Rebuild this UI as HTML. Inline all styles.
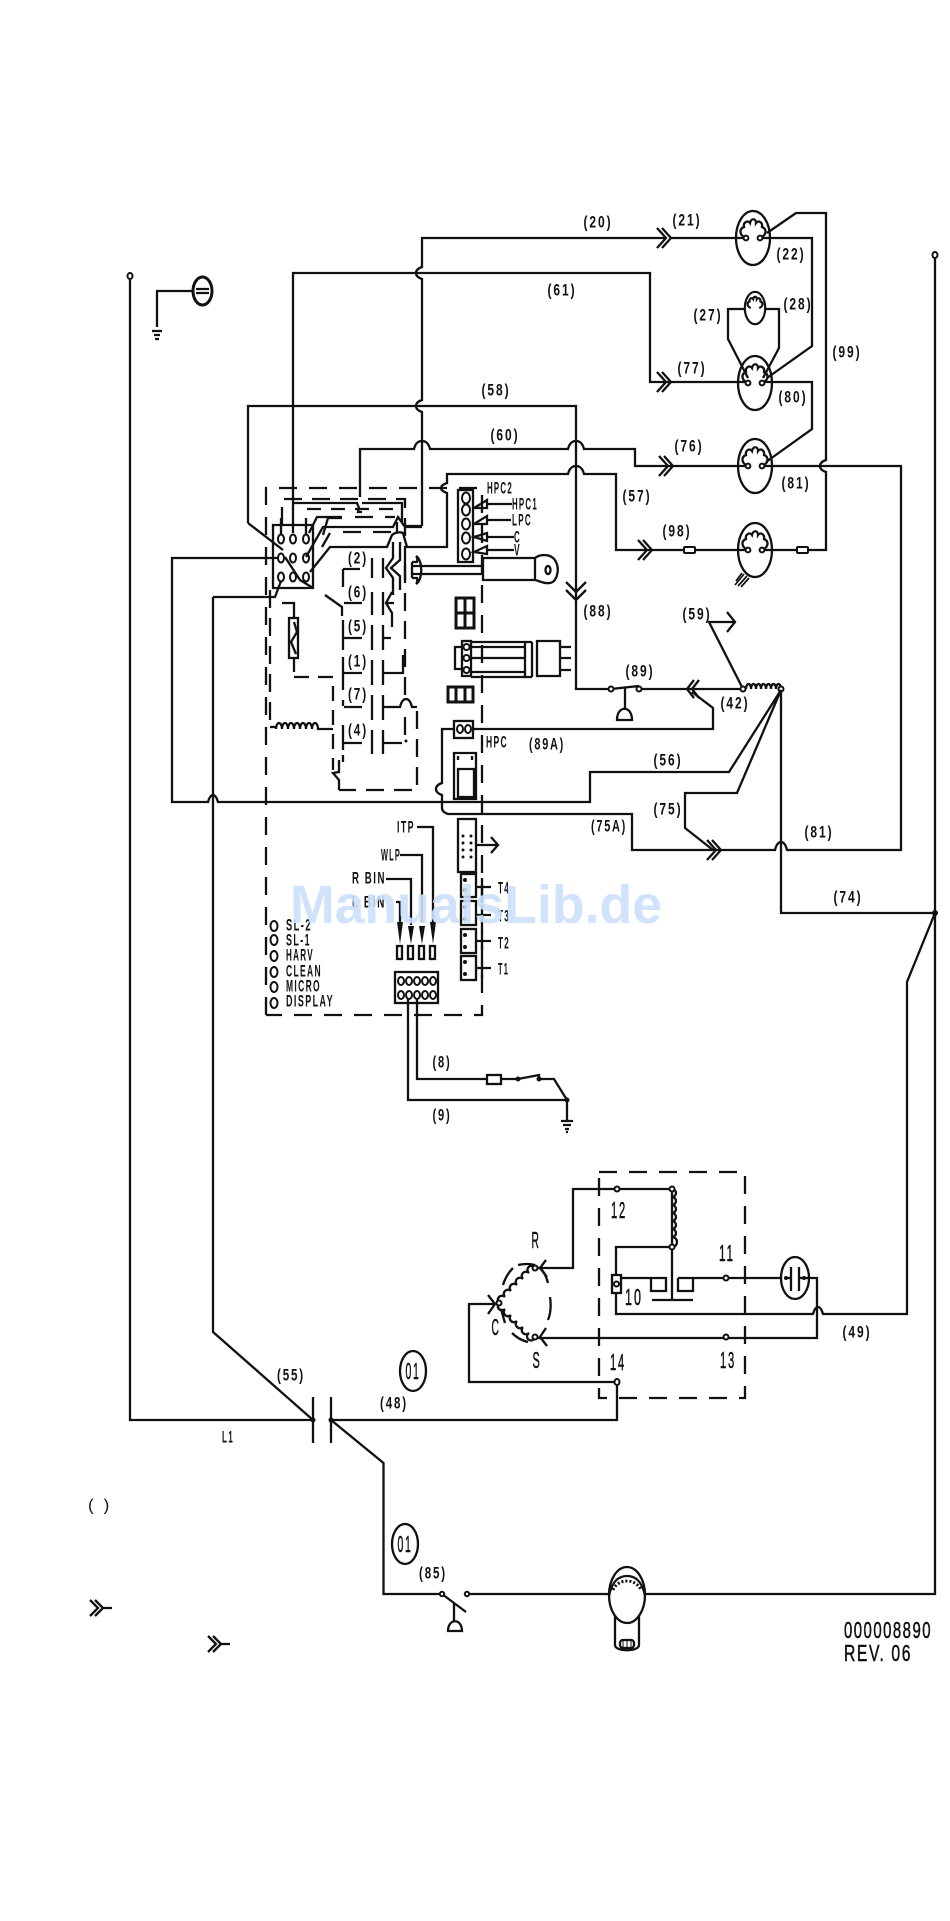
<!DOCTYPE html>
<html><head><meta charset="utf-8"><title>Wiring diagram</title>
<style>
html,body{margin:0;padding:0;background:#fff}
svg{display:block}
.w{fill:none;stroke:#111;stroke-width:2.3;stroke-linejoin:miter}
.d{fill:none;stroke:#111;stroke-width:2.3;stroke-dasharray:18 12}
.e{fill:none;stroke:#111;stroke-width:2.3;stroke-dasharray:18 10}
.n{fill:#fff;stroke:#111;stroke-width:2}
.k{fill:#111;stroke:none}
text{font-family:"Liberation Sans",sans-serif;font-weight:bold;font-size:17px;letter-spacing:.16em;fill:#111;dominant-baseline:central}
.m{text-anchor:middle}
.b{font-size:23px;font-weight:normal;stroke:#111;stroke-width:.5}
</style></head><body>
<svg width="950" height="1921" viewBox="0 0 950 1921" xmlns="http://www.w3.org/2000/svg">
<defs>
<g id="mot">
<ellipse class="w" cx="0" cy="0" rx="17" ry="27"/>
<path class="w" d="M-7 0C-14 -3 -14 -9 -9 -11C-10 -16 -5 -18 -3 -15C-2 -20 3 -20 3 -15C5 -18 10 -16 9 -11C14 -9 14 -3 7 0"/>
<circle class="n" cx="-7" cy="0" r="2.400"/><circle class="n" cx="7" cy="0" r="2.400"/>
</g>
<path id="chv" class="w" d="M-9 -10L0 0L-9 10M-4 -10L5 0L-4 10"/>
</defs>

<!-- ground top left -->
<path class="w" d="M193 291H157V327M152 331H162M154 335H160M155 339H159"/>
<ellipse class="w" cx="202.500" cy="291" rx="9.500" ry="14" style="stroke-width:3"/>
<path class="w" d="M196 289H209M196 293H209"/>

<!-- main left rail -->
<path class="w" d="M130 279V1420H313"/><ellipse class="n" cx="130" cy="276" rx="2.500" ry="3"/>
<!-- main right rail -->
<path class="w" d="M935 258V1594H646"/><ellipse class="n" cx="935" cy="255" rx="2.500" ry="3"/>
<path class="w" d="M935 913L907 982V1314H823q-2 -7 -5 -7q-3 0 -5 7H616V1293M616 1275V1247H672"/>

<!-- upper wires -->
<path class="w" d="M422 526H406M422 526V412q-6 -2 -6 -6q0 -4 6 -6V279q-6 -2 -6 -6q0 -4 6 -6V238H666M671 238H746"/>
<path class="w" d="M293 533V273H650V382H746"/>
<path class="w" d="M248 523V406H576V689H611"/>
<path class="w" d="M248 523L283 550M285 557L300 580L313 588"/>
<path class="w" d="M360 497V449H414q2 -8 8 -8q6 0 8 8H568q2 -8 8 -8q6 0 8 8H635V466H746"/>
<path class="w" d="M405 547H447V493q-6 -2 -6 -5q0 -3 6 -5V474H568q2 -8 8 -8q6 0 8 8H616V550H746"/>
<path class="w" d="M763 550H826V472q-6 -2 -6 -6q0 -4 6 -6V213H796L767 233"/>
<path class="w" d="M761 238H812V346L767 378"/>
<path class="w" d="M762 382H812V429L766 462"/>
<path class="w" d="M762 466H901V850H787q-2 -8 -6 -8q-4 0 -6 8H632V814H448q-6 -2 -6 -6V795q-6 -2 -6 -6q0 -4 6 -6V729H454"/>
<path class="w" d="M745 309H728V339L748 378M765 309H779V348L763 378"/>
<!-- motors -->
<use href="#mot" x="753" y="238"/>
<g transform="translate(755,308) scale(.6)"><ellipse cx="0" cy="0" rx="17" ry="27" fill="none" stroke="#111" stroke-width="3.600"/><path d="M-7 0C-14 -3 -14 -9 -9 -11C-10 -16 -5 -18 -3 -15C-2 -20 3 -20 3 -15C5 -18 10 -16 9 -11C14 -9 14 -3 7 0" fill="none" stroke="#111" stroke-width="3.600"/></g>
<use href="#mot" x="755" y="383"/>
<use href="#mot" x="755" y="466"/>
<use href="#mot" x="755" y="550"/>
<path class="w" style="stroke-width:1.700" d="M735 585L744 574M738 586L747 576M741 587L749 578M736 581L742 573"/>
<!-- chevrons -->
<use href="#chv" x="666" y="238"/><use href="#chv" x="666" y="382"/><use href="#chv" x="668" y="466"/><use href="#chv" x="647" y="550"/>
<path class="w" d="M566 582L576 592L586 582M566 590L576 600L586 590"/>
<rect x="684" y="547" width="11" height="6" class="n" rx="1"/><rect x="797" y="547" width="11" height="6" class="n" rx="1"/>

<!-- right lower area -->
<path class="w" d="M639 689H743M625 688V710M617 720C617 705 632 705 632 720Z"/>
<path class="w" d="M611 689L639 686"/><circle class="n" cx="611" cy="689" r="2.500"/><circle class="n" cx="639" cy="689" r="2.500"/>
<path class="w" d="M694 680L687 689L694 698M699 680L692 689L699 698"/>
<path class="w" d="M473 729H713V708L692 692"/>
<path class="w" d="M743 689L709 622H735M727 612L735 622L727 632"/>
<path class="w" d="M746 689a2.500 5 0 1 1 5 0a2.500 5 0 1 1 5 0a2.500 5 0 1 1 5 0a2.500 5 0 1 1 5 0a2.500 5 0 1 1 5 0a2.500 5 0 1 1 5 0a2.500 5 0 1 1 5 0"/>
<circle class="n" cx="743" cy="689" r="2.500"/><circle class="n" cx="781" cy="689" r="2.500"/>
<path class="w" d="M781 690V913H935M781 690L729 772H590V802H218q-2 -7 -5 -7q-3 0 -5 7H172V558H278M781 690L737 793H685V828L713 850"/>
<use href="#chv" x="716" y="850"/>
<circle class="k" cx="935" cy="913" r="3"/>
<path class="w" d="M213 597V1332L313 1420M213 597H275L281 581"/>

<!-- dashed control box -->
<path class="d" d="M266 1015V488H482V1015H266"/>
<!-- node block -->
<path class="w" d="M273 525H313V588H273Z"/>
<g>
<ellipse class="n" cx="281" cy="539" rx="3" ry="4.500"/><ellipse class="n" cx="293" cy="539" rx="3" ry="4.500"/><ellipse class="n" cx="306" cy="539" rx="3" ry="4.500"/>
<ellipse class="n" cx="281" cy="558" rx="3" ry="4.500"/><ellipse class="n" cx="293" cy="558" rx="3" ry="4.500"/><ellipse class="n" cx="306" cy="558" rx="3" ry="4.500"/>
<ellipse class="n" cx="281" cy="577" rx="3" ry="4.500"/><ellipse class="n" cx="293" cy="577" rx="3" ry="4.500"/><ellipse class="n" cx="306" cy="577" rx="3" ry="4.500"/>
</g>
<path class="w" d="M281 518V534M306 518V534"/>
<!-- inner dashed box top -->
<path class="e" d="M282 525V499H405V560"/>
<path class="w" d="M293 503H357l2 5l-1 4h4M362 503H402V522"/>
<path class="e" style="stroke-dasharray:14 10" d="M307 509H400"/>
<path class="w" d="M309 533L317 517H342M323 535L328 518H342"/>
<path class="e" style="stroke-dasharray:18 12" d="M355 517H395M343 532H392"/>
<path class="w" d="M306 557L323 527H393L398 517L405 527H422"/>
<path class="w" d="M322 547L330 533"/>
<path class="w" d="M310 572L330 547H387L392 535Q397 531 403 533L407 547"/>
<path class="w" d="M393 542V558L386 568L393 578V595M400 542V560L391 568L400 576V590"/>
<path class="w" d="M397 522V532"/>
<!-- inner vertical dash right -->
<path class="e" d="M405 565V695M405 717V737"/>
<path class="e" d="M417 711V790H339"/>
<!-- contacts -->
<path class="w" d="M343 569H360M343 569V587M344 603H362M344 638H362M344 673H362M344 707H362M344 743H362M343 620V650M343 657V690M343 700V706M343 725V750M325 595L342 607V616"/>
<path class="w" d="M372 558V578M383 558V578M372 592V615M383 592V615M372 625V650M383 625V650M372 660V685M383 660V685M372 695V720M383 695V720M372 730V754M383 730V754"/>
<path class="w" d="M383 638H391M383 673H403V655M383 707H400q2 -8 6 -8q4 0 6 8H417M383 743H402"/>
<path class="w" d="M385 603H394M392 592L386 603L392 613V627"/>
<circle class="k" cx="406" cy="741" r="1.500"/>
<path class="w" d="M339 760V772L333 773L339 780V790M343 755V762"/>
<!-- fuse and coil -->
<path class="w" d="M282 603H294V618M294 658V672"/>
<rect x="289" y="618" width="9" height="40" class="w"/>
<path class="w" d="M294 622L297 632L291 642L296 654"/>
<path class="e" style="stroke-dasharray:15 9" d="M294 677H333V770"/>
<path class="e" d="M270 590V727"/>
<path class="w" d="M270 727H276"/>
<path class="w" d="M276 729a3 6 0 1 1 6 0a3 6 0 1 1 6 0a3 6 0 1 1 6 0a3 6 0 1 1 6 0a3 6 0 1 1 6 0a3 6 0 1 1 6 0a3 6 0 1 1 6 0H333"/>
<!-- 5-pin and relay head -->
<rect x="458" y="490" width="15" height="72" class="w"/>
<g><ellipse class="n" cx="466" cy="498" rx="4" ry="5.500"/><ellipse class="n" cx="466" cy="510" rx="4" ry="5.500"/><ellipse class="n" cx="466" cy="524" rx="4" ry="5.500"/><ellipse class="n" cx="466" cy="538" rx="4" ry="5.500"/><ellipse class="n" cx="466" cy="554" rx="4" ry="5.500"/></g>
<path class="w" d="M474 508L487 500V508H474M487 504H512M474 524L487 516V524H474M487 520H511M474 537L487 533V541ZM487 537H514M474 552L487 546V554ZM487 550H514"/>
<path class="w" d="M483 558H535V580H483ZM535 558C540 554 552 553 556 562C559 568 558 576 554 581C548 586 540 581 535 580M413 566H483M413 574H483"/>
<ellipse class="w" cx="548" cy="570" rx="2.500" ry="4"/>
<path class="w" d="M405 560V580M412 562V578M412 562H417C417 562 418 558 416 556M412 578H417C417 578 418 582 416 584M416 556C423 560 423 580 416 584"/>
<!-- 4-square -->
<path class="w" style="stroke-width:3" d="M456 598H474V628H456ZM465 598V628M456 613H474"/>
<!-- connector + plug -->
<rect x="462" y="641" width="9" height="35" class="w"/>
<circle class="n" cx="466.500" cy="647" r="3"/><circle class="n" cx="466.500" cy="658" r="3"/><circle class="n" cx="466.500" cy="670" r="3"/>
<path class="w" d="M462 647H455V669H462M471 642H532M471 647H525M471 658H525M471 672H525M471 677H532M525 642V677M532 642V677M537 641H560V676H537ZM560 647H571M560 658H571M560 670H571"/>
<path class="w" style="stroke-width:3" d="M448 687H473V702H448ZM456 687V702M465 687V702"/>
<rect x="454" y="721" width="19" height="17" class="w"/>
<ellipse class="n" cx="460" cy="729" rx="3" ry="4"/><ellipse class="n" cx="468" cy="729" rx="3" ry="4"/>
<path class="w" d="M454 753H476V799H454ZM458 769H474V797H458ZM458 760V756M472 760V756"/>

<!-- ITP etc -->
<path class="w" d="M417 827H433V922M400 855H422V922M386 879H411V925M396 902H400V922"/>
<path class="k" d="M397 922H403L400 944ZM408 926H414L411 944ZM419 926H425L422 944ZM430 922H436L433 944Z"/>
<rect x="397" y="946" width="5" height="13" class="w"/><rect x="408" y="946" width="5" height="13" class="w"/><rect x="419" y="946" width="5" height="13" class="w"/><rect x="430" y="946" width="5" height="13" class="w"/>
<rect x="395" y="972" width="43" height="31" class="w"/>
<g><ellipse class="n" cx="401" cy="981" rx="3" ry="4"/><ellipse class="n" cx="409" cy="981" rx="3" ry="4"/><ellipse class="n" cx="417" cy="981" rx="3" ry="4"/><ellipse class="n" cx="425" cy="981" rx="3" ry="4"/><ellipse class="n" cx="433" cy="981" rx="3" ry="4"/><ellipse class="n" cx="401" cy="995" rx="3" ry="4"/><ellipse class="n" cx="409" cy="995" rx="3" ry="4"/><ellipse class="n" cx="417" cy="995" rx="3" ry="4"/><ellipse class="n" cx="425" cy="995" rx="3" ry="4"/><ellipse class="n" cx="433" cy="995" rx="3" ry="4"/></g>
<path class="w" d="M408 999V1100H567V1120M417 999V1079H487M501 1079H518L539 1075V1079H554L567 1100"/>
<rect x="487" y="1075" width="14" height="9" class="w"/>
<circle class="k" cx="518" cy="1079" r="2.500"/><circle class="k" cx="539" cy="1079" r="2.500"/><circle class="k" cx="567" cy="1100" r="2.500"/>
<path class="w" d="M561 1121H573M563 1125H571M565 1129H569M566 1132H568"/>
<rect x="458" y="819" width="18" height="53" class="w"/>
<g class="k"><circle cx="463" cy="836" r="1.500"/><circle cx="471" cy="836" r="1.500"/><circle cx="463" cy="843" r="1.500"/><circle cx="471" cy="843" r="1.500"/><circle cx="463" cy="850" r="1.500"/><circle cx="471" cy="850" r="1.500"/><circle cx="463" cy="857" r="1.500"/><circle cx="471" cy="857" r="1.500"/></g>
<path class="w" d="M476 845H497M491 837L498 845L491 853"/>
<g>
<rect x="461" y="874" width="15" height="23" class="w"/><rect x="461" y="901" width="15" height="24" class="w"/><rect x="461" y="929" width="15" height="24" class="w"/><rect x="461" y="956" width="15" height="24" class="w"/>
<path class="w" d="M476 887H491M476 915H491M476 941H491M476 968H491M482 878V895M482 905V922M482 932V950M482 962V978"/>
<g class="k"><circle cx="465" cy="880" r="2"/><circle cx="465" cy="890" r="2"/><circle cx="465" cy="907" r="2"/><circle cx="465" cy="919" r="2"/><circle cx="465" cy="935" r="2"/><circle cx="465" cy="947" r="2"/><circle cx="465" cy="962" r="2"/><circle cx="465" cy="974" r="2"/></g>
</g>
<g><ellipse class="n" cx="274" cy="926" rx="3.500" ry="5"/><ellipse class="n" cx="274" cy="940" rx="3.500" ry="5"/><ellipse class="n" cx="274" cy="956" rx="3.500" ry="5"/><ellipse class="n" cx="274" cy="972" rx="3.500" ry="5"/><ellipse class="n" cx="274" cy="987" rx="3.500" ry="5"/><ellipse class="n" cx="274" cy="1003" rx="3.500" ry="5"/></g>

<!-- compressor section -->
<path class="d" d="M599 1172H745V1398H599Z"/>
<path class="w" d="M617 1382H469V1304H495M617 1382V1420H331M535 1268H573V1189H672"/>
<path class="w" d="M672 1189V1300M652 1300H693"/>
<path class="w" d="M672 1189a4 4 0 0 1 0 8a4 4 0 0 1 0 8a4 4 0 0 1 0 8a4 4 0 0 1 0 8a4 4 0 0 1 0 8a4 4 0 0 1 0 8a4 4 0 0 1 0 10"/>
<circle class="n" cx="617" cy="1189" r="2.500"/><circle class="n" cx="672" cy="1189" r="2.500"/><circle class="n" cx="672" cy="1247" r="2.500"/>
<rect x="612" y="1275" width="9" height="18" class="w"/><circle class="n" cx="616.500" cy="1284" r="2.500"/>
<path class="w" d="M621 1278H651V1291H666V1278H651M678 1278H726M678 1278V1291H693V1278H678M726 1278H781M804 1278H817V1338H535"/>
<circle class="n" cx="726" cy="1278" r="2.500"/><circle class="n" cx="726" cy="1337" r="2.500"/>
<ellipse class="w" cx="795" cy="1278" rx="14" ry="21"/>
<path class="w" d="M791 1267V1291M799 1267V1291M785 1278H791M799 1278H805"/>
<circle class="k" cx="786" cy="1278" r="2"/><circle class="k" cx="804" cy="1278" r="2"/>
<path class="w" d="M499 1303a4 4 0 1 1 6 -6a4 4 0 1 1 6 -6a4 4 0 1 1 6 -6a4 4 0 1 1 6 -6a4 4 0 1 1 6 -6a4 4 0 1 1 6 -5"/>
<path class="w" d="M499 1303a4 4 0 1 0 6 6a4 4 0 1 0 6 6a4 4 0 1 0 6 6a4 4 0 1 0 6 6a4 4 0 1 0 6 6a4 4 0 1 0 6 4"/>
<circle class="n" cx="535" cy="1268" r="2.500"/><circle class="n" cx="535" cy="1337" r="2.500"/><circle class="n" cx="499" cy="1303" r="2.500"/>
<path class="w" d="M503 1285Q506 1275 513 1268M518 1265Q527 1263 535 1265M542 1270Q546 1275 548 1283M550 1297Q552 1310 548 1320M512 1333Q519 1340 528 1342M501 1309L505 1323"/>
<path class="w" d="M546 1260L540 1268L547 1277M546 1328L540 1337L547 1346M488 1295L495 1304L488 1314"/>
<ellipse class="n" cx="617" cy="1382" rx="2.500" ry="3"/>

<!-- contactor -->
<path class="w" d="M313 1397V1443M331 1397V1443"/>
<circle class="k" cx="313" cy="1420" r="2.500"/><circle class="k" cx="331" cy="1420" r="2.500"/>
<path class="w" d="M331 1420L383.500 1463V1594H442M467 1594H609"/>
<path class="w" d="M442 1594L466 1612M454 1603V1622M448 1631C448 1618 462 1618 462 1631Z"/>
<circle class="n" cx="442" cy="1594" r="2.200"/><circle class="n" cx="467" cy="1594" r="2.200"/>
<ellipse class="w" cx="413" cy="1371" rx="13" ry="20"/><ellipse class="w" cx="405" cy="1544" rx="13" ry="20"/>
<!-- bottom motor -->
<ellipse class="w" cx="627" cy="1595" rx="18" ry="28"/>
<path class="w" d="M609 1596C612 1580 620 1576 627 1576C634 1576 642 1580 645 1596"/>
<path class="w" style="stroke-width:3" stroke-dasharray="2 2" d="M613 1590C618 1578 636 1578 641 1590"/>
<path class="w" d="M615 1615V1645C615 1652 639 1652 639 1645V1615"/>
<rect x="620" y="1640" width="14" height="8" rx="3" class="w"/>
<path class="w" style="stroke-width:1" d="M623 1641V1647M627 1641V1647M631 1641V1647"/>
<path class="w" d="M90 1600L98 1608L90 1616M95 1600L103 1608L95 1616M103 1608H112M208 1636L216 1644L208 1652M213 1636L221 1644L213 1652M221 1644H230"/>

<!-- labels -->
<g>
<text class="m" x="598" y="222" textLength="29" lengthAdjust="spacingAndGlyphs">(20)</text>
<text class="m" x="687" y="220" textLength="29" lengthAdjust="spacingAndGlyphs">(21)</text>
<text class="m" x="791" y="254" textLength="29" lengthAdjust="spacingAndGlyphs">(22)</text>
<text class="m" x="562" y="290" textLength="29" lengthAdjust="spacingAndGlyphs">(61)</text>
<text class="m" x="708" y="315" textLength="29" lengthAdjust="spacingAndGlyphs">(27)</text>
<text class="m" x="798" y="304" textLength="29" lengthAdjust="spacingAndGlyphs">(28)</text>
<text class="m" x="692" y="368" textLength="29" lengthAdjust="spacingAndGlyphs">(77)</text>
<text class="m" x="793" y="397" textLength="29" lengthAdjust="spacingAndGlyphs">(80)</text>
<text class="m" x="847" y="352" textLength="29" lengthAdjust="spacingAndGlyphs">(99)</text>
<text class="m" x="496" y="390" textLength="29" lengthAdjust="spacingAndGlyphs">(58)</text>
<text class="m" x="505" y="435" textLength="29" lengthAdjust="spacingAndGlyphs">(60)</text>
<text class="m" x="689" y="446" textLength="29" lengthAdjust="spacingAndGlyphs">(76)</text>
<text class="m" x="796" y="483" textLength="29" lengthAdjust="spacingAndGlyphs">(81)</text>
<text class="m" x="637" y="496" textLength="29" lengthAdjust="spacingAndGlyphs">(57)</text>
<text class="m" x="677" y="531" textLength="29" lengthAdjust="spacingAndGlyphs">(98)</text>
<text class="m" x="598" y="611" textLength="29" lengthAdjust="spacingAndGlyphs">(88)</text>
<text class="m" x="697" y="614" textLength="29" lengthAdjust="spacingAndGlyphs">(59)</text>
<text class="m" x="640" y="671" textLength="29" lengthAdjust="spacingAndGlyphs">(89)</text>
<text class="m" x="735" y="703" textLength="29" lengthAdjust="spacingAndGlyphs">(42)</text>
<text class="m" x="547" y="744" textLength="36" lengthAdjust="spacingAndGlyphs">(89A)</text>
<text class="m" x="668" y="760" textLength="29" lengthAdjust="spacingAndGlyphs">(56)</text>
<text class="m" x="668" y="809" textLength="29" lengthAdjust="spacingAndGlyphs">(75)</text>
<text class="m" x="609" y="826" textLength="36" lengthAdjust="spacingAndGlyphs">(75A)</text>
<text class="m" x="819" y="832" textLength="29" lengthAdjust="spacingAndGlyphs">(81)</text>
<text class="m" x="848" y="897" textLength="29" lengthAdjust="spacingAndGlyphs">(74)</text>
<text class="m" x="442" y="1062" textLength="19" lengthAdjust="spacingAndGlyphs">(8)</text>
<text class="m" x="442" y="1115" textLength="19" lengthAdjust="spacingAndGlyphs">(9)</text>
<text class="m" x="857" y="1332" textLength="29" lengthAdjust="spacingAndGlyphs">(49)</text>
<text class="m" x="291" y="1375" textLength="28" lengthAdjust="spacingAndGlyphs">(55)</text>
<text class="m" x="394" y="1403" textLength="28" lengthAdjust="spacingAndGlyphs">(48)</text>
<text class="m" x="433" y="1573" textLength="28" lengthAdjust="spacingAndGlyphs">(85)</text>
<text class="m" x="358" y="558" textLength="20" lengthAdjust="spacingAndGlyphs">(2)</text>
<text class="m" x="358" y="592" textLength="20" lengthAdjust="spacingAndGlyphs">(6)</text>
<text class="m" x="358" y="626" textLength="20" lengthAdjust="spacingAndGlyphs">(5)</text>
<text class="m" x="358" y="661" textLength="20" lengthAdjust="spacingAndGlyphs">(1)</text>
<text class="m" x="358" y="694" textLength="20" lengthAdjust="spacingAndGlyphs">(7)</text>
<text class="m" x="358" y="730" textLength="20" lengthAdjust="spacingAndGlyphs">(4)</text>
<text x="487" y="488" textLength="26" lengthAdjust="spacingAndGlyphs">HPC2</text>
<text x="512" y="504" textLength="26" lengthAdjust="spacingAndGlyphs">HPC1</text>
<text x="512" y="520" textLength="20" lengthAdjust="spacingAndGlyphs">LPC</text>
<text x="514" y="537" textLength="7" lengthAdjust="spacingAndGlyphs">C</text>
<text x="514" y="550" textLength="7" lengthAdjust="spacingAndGlyphs">V</text>
<text x="486" y="742" textLength="22" lengthAdjust="spacingAndGlyphs">HPC</text>
<text x="397" y="827" textLength="18" lengthAdjust="spacingAndGlyphs">ITP</text>
<text x="381" y="855" textLength="20" lengthAdjust="spacingAndGlyphs">WLP</text>
<text x="352" y="878" textLength="34" lengthAdjust="spacingAndGlyphs">R BIN</text>
<text x="352" y="902" textLength="34" lengthAdjust="spacingAndGlyphs">L BIN</text>
<text x="286" y="925" textLength="26" lengthAdjust="spacingAndGlyphs">SL-2</text>
<text x="286" y="940" textLength="25" lengthAdjust="spacingAndGlyphs">SL-1</text>
<text x="286" y="955" textLength="28" lengthAdjust="spacingAndGlyphs">HARV</text>
<text x="286" y="971" textLength="36" lengthAdjust="spacingAndGlyphs">CLEAN</text>
<text x="286" y="986" textLength="35" lengthAdjust="spacingAndGlyphs">MICRO</text>
<text x="286" y="1001" textLength="48" lengthAdjust="spacingAndGlyphs">DISPLAY</text>
<text x="498" y="888" textLength="12" lengthAdjust="spacingAndGlyphs">T4</text>
<text x="498" y="916" textLength="12" lengthAdjust="spacingAndGlyphs">T3</text>
<text x="498" y="943" textLength="12" lengthAdjust="spacingAndGlyphs">T2</text>
<text x="498" y="969" textLength="11" lengthAdjust="spacingAndGlyphs">T1</text>
<text class="m b" x="536" y="1240" textLength="9" lengthAdjust="spacingAndGlyphs">R</text>
<text class="m b" x="496" y="1327" textLength="9" lengthAdjust="spacingAndGlyphs">C</text>
<text class="m b" x="537" y="1360" textLength="9" lengthAdjust="spacingAndGlyphs">S</text>
<text class="m b" x="619" y="1210" textLength="16" lengthAdjust="spacingAndGlyphs">12</text>
<text class="m b" x="634" y="1297" textLength="18" lengthAdjust="spacingAndGlyphs">10</text>
<text class="m b" x="727" y="1253" textLength="16" lengthAdjust="spacingAndGlyphs">11</text>
<text class="m b" x="728" y="1360" textLength="16" lengthAdjust="spacingAndGlyphs">13</text>
<text class="m b" x="618" y="1362" textLength="16" lengthAdjust="spacingAndGlyphs">14</text>
<text class="m b" x="413" y="1371" textLength="15" lengthAdjust="spacingAndGlyphs">01</text>
<text class="m b" x="405" y="1544" textLength="15" lengthAdjust="spacingAndGlyphs">01</text>
<text class="m" x="228" y="1437" textLength="12" lengthAdjust="spacingAndGlyphs">L1</text>
<text class="m" x="100" y="1505" textLength="24" style="font-weight:normal" xml:space="preserve">( )</text>
<text x="844" y="1630" textLength="88" lengthAdjust="spacingAndGlyphs" style="font-size:23px;font-weight:normal;letter-spacing:.1em;stroke:#111;stroke-width:.5">000008890</text>
<text x="844" y="1653" textLength="68" lengthAdjust="spacingAndGlyphs" style="font-size:23px;font-weight:normal;letter-spacing:.1em;stroke:#111;stroke-width:.5">REV. 06</text>
</g>
<!-- watermark -->
<text x="290" y="905" textLength="372" lengthAdjust="spacingAndGlyphs" style="font-size:54px;letter-spacing:0;fill:#cde0fa;opacity:.9">ManualsLib.de</text>
</svg>
</body></html>
